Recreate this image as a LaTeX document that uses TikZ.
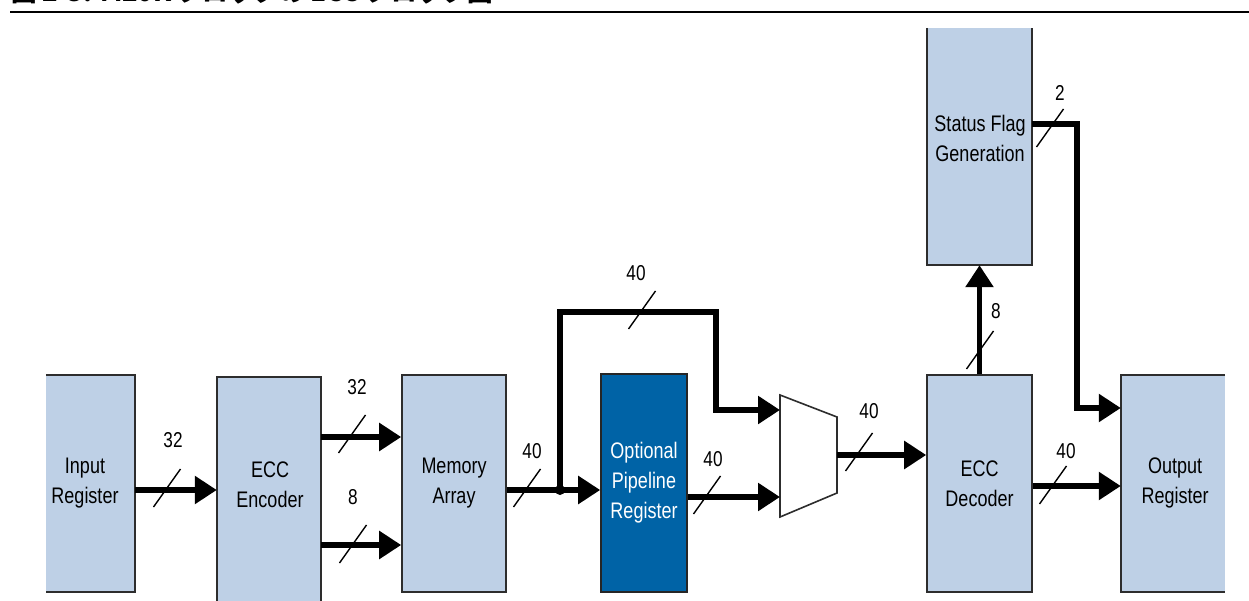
\documentclass[tikz,border=0pt]{standalone}
\usepackage{fontspec}
\setmainfont{Liberation Sans}[FakeStretch=0.8]
\newfontfamily\jpfont{Noto Sans CJK JP}
\usetikzlibrary{arrows.meta,calc}
\definecolor{boxblue}{RGB}{190,208,230}
\definecolor{pipeblue}{RGB}{0,99,166}
\definecolor{edgegray}{RGB}{45,45,45}
\begin{document}
\begin{tikzpicture}[x=1pt,y=-1pt,
  box/.style={fill=boxblue,draw=none,inner sep=0pt,align=center,
    font=\fontsize{22.5}{30}\selectfont},
  fullbox/.style={box,draw=edgegray,line width=1.6pt},
  edge/.style={draw=edgegray,line width=1.6pt},
  txt/.style={align=center,inner sep=0pt,font=\fontsize{22.5}{30}\selectfont},
  num/.style={inner sep=0pt,font=\fontsize{21.5}{21.5}\selectfont},
  bus/.style={line width=5.5pt,line join=miter,-{Triangle[length=22pt,width=27pt]}},
  slash/.style={line width=1.4pt},
  bw/.pic={\draw[slash] (-13.5,19) -- (13.5,-19);}
]
\useasboundingbox (0,0) rectangle (1249,601);
\clip (0,0) rectangle (1249,601);

% title (clipped at the top, as in the reference) and rule
\node[anchor=base west,inner sep=0pt,font=\jpfont\bfseries\fontsize{25.5}{25.5}\selectfont] (title) at (11,2) {図 2-3: M20K ブロックの ECC ブロック図};
\draw[line width=2.5pt] (10,12) -- (1249,12);

% levels
\coordinate (r124) at (0,124);
\coordinate (r437) at (0,437);
\coordinate (r486) at (0,486);
\coordinate (r490) at (0,490);
\coordinate (r497) at (0,497);
\coordinate (r545) at (0,545);

% boxes
\node[box,minimum width=89pt,minimum height=217pt] (inreg) at (90.5,483.5) {};
\draw[edge] (inreg.north west) -- (inreg.north east) -- (inreg.south east) -- (inreg.south west);
\node[txt] (inregt) at (85,483) {Input\\Register};

\node[box,minimum width=104pt,minimum height=228pt] (enc) at (269,491) {};
\draw[edge] (enc.south west) -- (enc.north west) -- (enc.north east) -- (enc.south east);
\node[txt] (enct) at (270,485) {ECC\\Encoder};

\node[fullbox,minimum width=104pt,minimum height=217pt] (mem) at (454,483.5) {Memory\\Array};

\node[fullbox,fill=pipeblue,draw=black!85,text=white,minimum width=86pt,minimum height=218pt] (pipe) at (644,483) {Optional\\Pipeline\\Register};

% multiplexer
\coordinate (m1) at (780,395);
\coordinate (m2) at (837,417);
\coordinate (m3) at (837,493);
\coordinate (m4) at (780,517);
\draw[edge,fill=white] (m1) -- (m2) -- (m3) -- (m4) -- cycle;
\coordinate (mi1) at (780,410);
\coordinate (mi2) at (780,497);
\coordinate (mo) at (837,455);

\node[fullbox,minimum width=105pt,minimum height=217pt] (dec) at (979.5,483.5) {ECC\\Decoder};

\node[box,minimum width=105pt,minimum height=237pt] (status) at (979.5,146.5) {};
\draw[edge] (status.north west) -- (status.south west) -- (status.south east) -- (status.north east);
\node[txt] (statust) at (980,138) {Status Flag\\Generation};

\node[box,minimum width=104pt,minimum height=217pt] (outreg) at (1173,483.5) {};
\draw[edge] (outreg.north east) -- (outreg.north west) -- (outreg.south west) -- (outreg.south east);
\node[txt] (outregt) at (1175,483) {Output\\Register};

% connectors
\coordinate (j) at (560,490);
\coordinate (bend) at (716,312);
\coordinate (sc) at (1077,408);

\draw[bus] (inreg.east |- r490) -- (enc.west |- r490);
\draw[bus] (enc.east |- r437) -- (mem.west |- r437);
\draw[bus] (enc.east |- r545) -- (mem.west |- r545);
\draw[bus] (mem.east |- r490) -- (pipe.west |- r490);
\draw[bus] (j) |- (bend) |- (mi1);
\fill (j) circle (5);
\draw[bus] (pipe.east |- r497) -- (mi2);
\draw[bus] (mo) -- (dec.west |- mo);
\draw[bus] (dec.north) -- (status.south);
\draw[bus] (status.east |- r124) -| (sc) -- (outreg.west |- sc);
\draw[bus] (dec.east |- r486) -- (outreg.west |- r486);

% bus-width marks
\pic at (167,488) {bw};
\pic at (352,434) {bw};
\pic at (353,544) {bw};
\pic at (527,488) {bw};
\pic at (642,310) {bw};
\pic at (707,495) {bw};
\pic at (859,452) {bw};
\pic at (980,350) {bw};
\pic at (1050,128) {bw};
\pic at (1053,485) {bw};

\node[num] (n1) at (173,440) {32};
\node[num] (n2) at (357,387) {32};
\node[num] (n3) at (353,497) {8};
\node[num] (n4) at (532,451) {40};
\node[num] (n5) at (636,273) {40};
\node[num] (n6) at (713,459) {40};
\node[num] (n7) at (869,411) {40};
\node[num] (n8) at (996,311) {8};
\node[num] (n9) at (1060,93) {2};
\node[num] (n10) at (1066,451) {40};
\end{tikzpicture}
\end{document}
